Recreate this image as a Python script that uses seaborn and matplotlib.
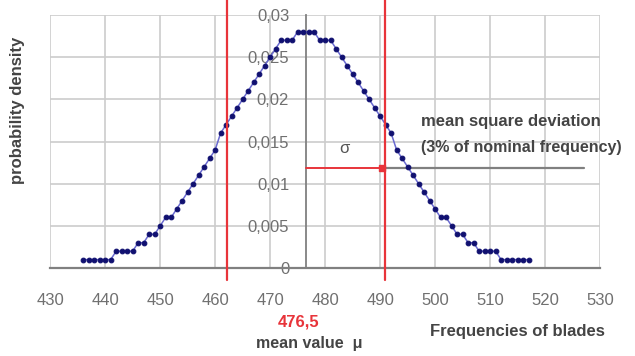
import matplotlib
matplotlib.use("Agg")
import matplotlib.pyplot as plt
import seaborn as sns

# Data
freq = list(range(436, 518))
density_left = [0.001, 0.001, 0.001, 0.001, 0.001, 0.001,
                0.002, 0.002, 0.002, 0.002,
                0.003, 0.003, 0.004, 0.004, 0.005, 0.006, 0.006,
                0.007, 0.008, 0.009, 0.010, 0.011, 0.012, 0.013, 0.014,
                0.016, 0.017, 0.018, 0.019, 0.020, 0.021, 0.022, 0.023,
                0.024, 0.025, 0.026, 0.027, 0.027, 0.027, 0.028, 0.028]
density = density_left + density_left[::-1]
mean_value = 476.5
sigma = 14.3
sigma_level = 0.0119
x_ticks = [430, 440, 450, 460, 470, 480, 490, 500, 510, 520, 530]
y_ticks = [0, 0.005, 0.01, 0.015, 0.02, 0.025, 0.03]
y_labels = ["0", "0,005", "0,01", "0,015", "0,02", "0,025", "0,03"]

sns.set_style("whitegrid")
plt.rcParams['font.family'] = ['Liberation Sans', 'DejaVu Sans']

fig = plt.figure(figsize=(6.35, 3.56), dpi=100)
ax = fig.add_axes([0.079, 0.247, 0.866, 0.711])

# distribution curve
sns.lineplot(x=freq, y=density, ax=ax, color='#6a6ad0', linewidth=1.1,
             marker='o', markersize=3.4, markerfacecolor='#101070',
             markeredgecolor='#101070', zorder=3)

ax.set_xlim(430, 530)
ax.set_ylim(0, 0.03)
ax.set_xticks(x_ticks)
ax.set_yticks(y_ticks)
ax.set_yticklabels(y_labels)
ax.grid(True, color='#cccccc', linewidth=1.2)

for s in ['top', 'right']:
    ax.spines[s].set_visible(False)
ax.spines['left'].set_position(('data', mean_value))
ax.spines['left'].set_color('#808080')
ax.spines['left'].set_linewidth(1.3)
ax.spines['bottom'].set_color('#808080')
ax.spines['bottom'].set_linewidth(1.6)
ax.tick_params(axis='both', direction='inout', length=6, width=1.2,
               color='#808080', labelsize=12, labelcolor='#707070')
ax.tick_params(axis='x', pad=15)
ax.tick_params(axis='y', pad=9)
ax.set_xlabel('')
ax.set_ylabel('')

# red lines at mean +- sigma
for xv in [mean_value - sigma, mean_value + sigma]:
    ax.plot([xv, xv], [-0.0014, 0.0318], color='#e8343a', linewidth=1.6,
            clip_on=False, zorder=4)

# sigma arrow and leader line
ax.plot([mean_value, mean_value + sigma - 0.4], [sigma_level, sigma_level],
        color='#e8343a', linewidth=1.4, zorder=4)
ax.plot([mean_value + sigma - 0.4], [sigma_level], marker='s', markersize=4,
        color='#e8343a', zorder=5)
ax.plot([mean_value + sigma, 527], [sigma_level, sigma_level],
        color='#808080', linewidth=1.6, zorder=2)
ax.text(483.5, 0.0142, 'σ', fontsize=12, color='#555555', ha='center', va='center')

ax.text(497.5, 0.0174, 'mean square deviation', fontsize=12, fontweight='bold',
        color='#444444', ha='left', va='center')
ax.text(497.5, 0.0143, '(3% of nominal frequency)', fontsize=11.5,
        fontweight='bold', color='#444444', ha='left', va='center')

# labels
fig.text(0.028, 0.69, 'probability density', rotation=90, fontsize=12,
         fontweight='bold', color='#444444', ha='center', va='center')
fig.text(0.815, 0.068, 'Frequencies of blades', fontsize=12, fontweight='bold',
         color='#444444', ha='center', va='center')
fig.text(0.47, 0.095, '476,5', fontsize=12, fontweight='bold',
         color='#e8343a', ha='center', va='center')
fig.text(0.487, 0.036, 'mean value  μ', fontsize=11.5, fontweight='bold',
         color='#444444', ha='center', va='center')

fig.savefig('out.png', dpi=100)
